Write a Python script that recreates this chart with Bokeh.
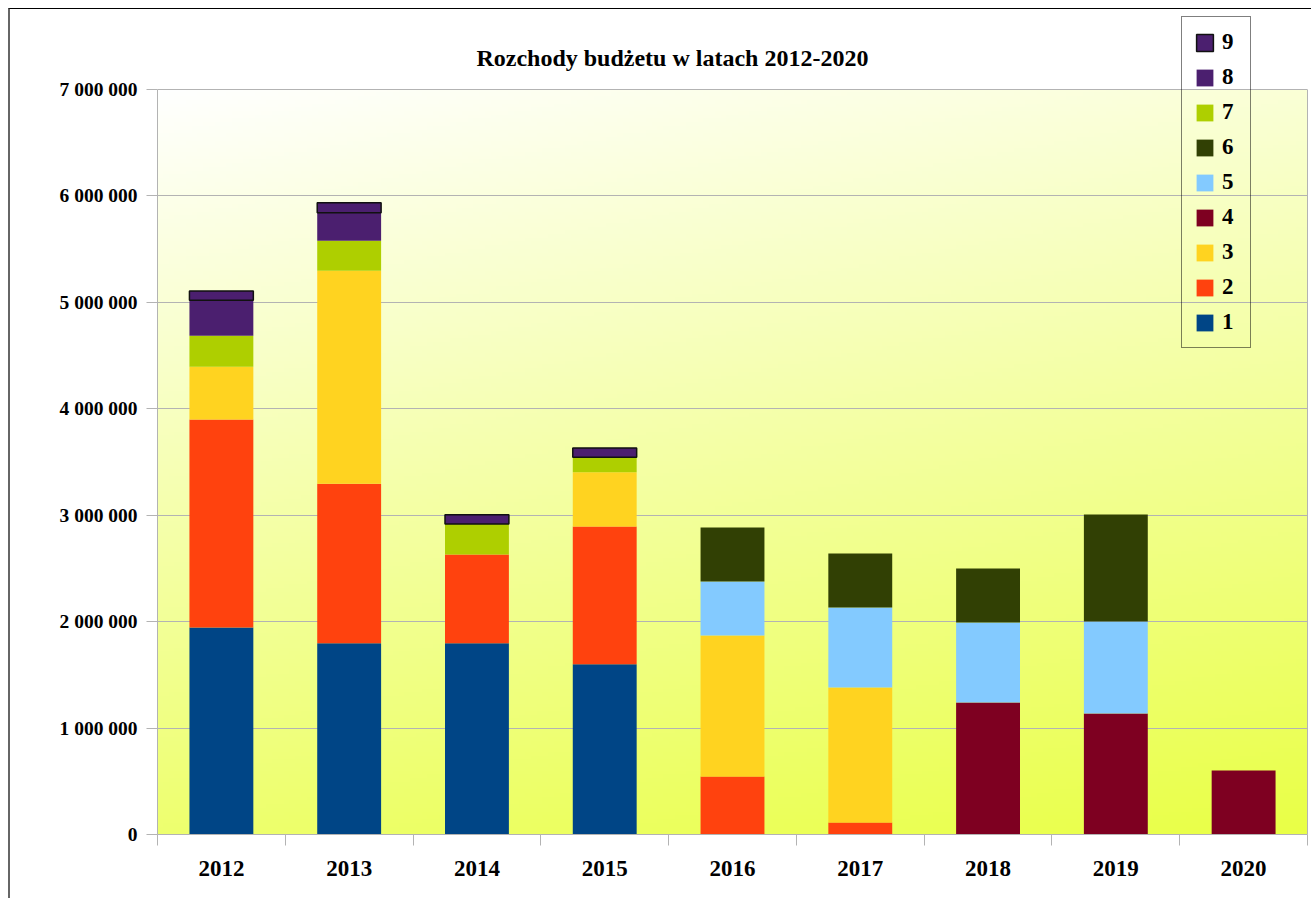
import numpy as np
from bokeh.plotting import figure
from bokeh.models import (ColumnDataSource, Range1d, FixedTicker, Legend, LegendItem, Label, LinearAxis)
from bokeh.embed import file_html
from bokeh.resources import INLINE

# ---- data ----
years = ["2012", "2013", "2014", "2015", "2016", "2017", "2018", "2019", "2020"]
s1 = [1945000, 1795000, 1795000, 1600000, 0, 0, 0, 0, 0]
s2 = [1952000, 1500000, 835000, 1292000, 545000, 113000, 0, 0, 0]
s3 = [497000, 2000000, 0, 510000, 1324000, 1267000, 0, 0, 0]
s4 = [0, 0, 0, 0, 0, 0, 1239000, 1136000, 601000]
s5 = [0, 0, 0, 0, 507000, 751000, 752000, 864000, 0]
s6 = [0, 0, 0, 0, 507000, 507000, 507000, 1005000, 0]
s7 = [291000, 281000, 285000, 141000, 0, 0, 0, 0, 0]
s8 = [332000, 263000, 0, 0, 0, 0, 0, 0, 0]
s9 = [88000, 94000, 88000, 88000, 0, 0, 0, 0, 0]
series_names = ["1", "2", "3", "4", "5", "6", "7", "8", "9"]
series_values = [s1, s2, s3, s4, s5, s6, s7, s8, s9]
colors = ["#004586", "#ff420e", "#ffd320", "#7e0021", "#83caff",
          "#314004", "#aecf00", "#4b1f6f", "#4b1f6f"]
y_ticks = [0, 1000000, 2000000, 3000000, 4000000, 5000000, 6000000, 7000000]
y_tick_labels = ["0", "1 000 000", "2 000 000", "3 000 000", "4 000 000",
                 "5 000 000", "6 000 000", "7 000 000"]
title_text = "Rozchody budżetu w latach 2012-2020"

FONT = "Liberation Serif"
GRAY = "#b3b3b3"
n = len(years)
xc = [i + 0.5 for i in range(n)]
y_top = y_ticks[-1]

data = {"x": xc}
for name, vals in zip(series_names, series_values):
    data[name] = vals
data["a9"] = [1.0 if v > 0 else 0.0 for v in s9]
source = ColumnDataSource(data)

p = figure(width=1303, height=890, output_backend="svg", toolbar_location=None,
           x_range=Range1d(0, n), y_range=Range1d(0, 7720000),
           min_border_left=147, min_border_right=6, min_border_top=3, min_border_bottom=65)
p.styles = {"margin-left": "8px", "margin-top": "8px",
            "border-top": "1px solid #000000", "border-left": "2px solid #666666"}
p.background_fill_color = "white"
p.border_fill_color = "white"
p.outline_line_color = None

# gradient background of plot area
H, W = 200, 200
img = np.empty((H, W), dtype=np.uint32)
view = img.view(dtype=np.uint8).reshape((H, W, 4))
rows = np.arange(H)[:, None] / (H - 1)   # 0 bottom -> 1 top
cols = np.arange(W)[None, :] / (W - 1)
v = 1 - rows
f = np.clip(0.78 * v + 0.22 * cols, 0, 1)
end = np.array([233, 255, 70])
view[:, :, 0] = (255 - f * (255 - end[0])).astype(np.uint8)
view[:, :, 1] = (255 - f * (255 - end[1])).astype(np.uint8)
view[:, :, 2] = (255 - f * (255 - end[2])).astype(np.uint8)
view[:, :, 3] = 255
p.image_rgba(image=[img], x=0, y=0, dw=n, dh=y_top, level="image")

line_colors = [None] * 8 + ["#111111"]
line_alphas = [1.0] * 8 + ["a9"]
renderers = p.vbar_stack(series_names, x="x", width=0.5, source=source,
                         fill_color=colors, line_color=line_colors,
                         line_alpha=line_alphas, line_width=1.5)

# axes
p.yaxis.bounds = (0, y_top)
p.yaxis.ticker = FixedTicker(ticks=y_ticks)
p.yaxis.major_label_overrides = {t: l for t, l in zip(y_ticks, y_tick_labels)}
p.yaxis.axis_line_color = GRAY
p.yaxis.major_tick_line_color = GRAY
p.yaxis.major_tick_out = 11
p.yaxis.major_tick_in = 0
p.yaxis.minor_tick_line_color = None
p.yaxis.major_label_standoff = 9
p.yaxis.major_label_text_font = FONT
p.yaxis.major_label_text_font_style = "bold"
p.yaxis.major_label_text_font_size = "19.5px"
p.yaxis.major_label_text_color = "black"

p.xaxis.ticker = FixedTicker(ticks=xc, minor_ticks=list(range(n + 1)))
p.xaxis.major_label_overrides = {x: y for x, y in zip(xc, years)}
p.xaxis.axis_line_color = GRAY
p.xaxis.major_tick_line_color = None
p.xaxis.major_tick_out = 0
p.xaxis.major_tick_in = 0
p.xaxis.minor_tick_line_color = GRAY
p.xaxis.minor_tick_out = 11
p.xaxis.minor_tick_in = 0
p.xaxis.major_label_standoff = 15
p.xaxis.major_label_text_font = FONT
p.xaxis.major_label_text_font_style = "bold"
p.xaxis.major_label_text_font_size = "23px"
p.xaxis.major_label_text_color = "black"

# right border of plot area
rax = LinearAxis(bounds=(0, y_top), ticker=FixedTicker(ticks=[]),
                 axis_line_color=GRAY, major_tick_line_color=None,
                 minor_tick_line_color=None, major_tick_out=0, major_tick_in=0,
                 major_label_text_font_size="0px", major_label_standoff=0)
p.add_layout(rax, "right")

p.xgrid.grid_line_color = None
p.ygrid.ticker = FixedTicker(ticks=y_ticks)
p.ygrid.grid_line_color = GRAY

# title
p.add_layout(Label(x=4.03, y=7296000, text=title_text, text_align="center",
                   text_baseline="middle", text_font=FONT, text_font_style="bold",
                   text_font_size="24px", text_color="black"))

# legend (9 on top)
items = [LegendItem(label=name, renderers=[r]) for name, r in zip(series_names, renderers)][::-1]
legend = Legend(items=items, location=(1024, 486), orientation="vertical",
                glyph_width=21, glyph_height=21, label_height=25, label_width=16,
                spacing=9, padding=12, margin=0, label_standoff=7,
                label_text_font=FONT, label_text_font_style="bold",
                label_text_font_size="23px", label_text_color="black",
                border_line_color="black", border_line_width=1,
                background_fill_alpha=0)
p.add_layout(legend, "center")

open("out.html", "w").write(file_html(p, INLINE))
